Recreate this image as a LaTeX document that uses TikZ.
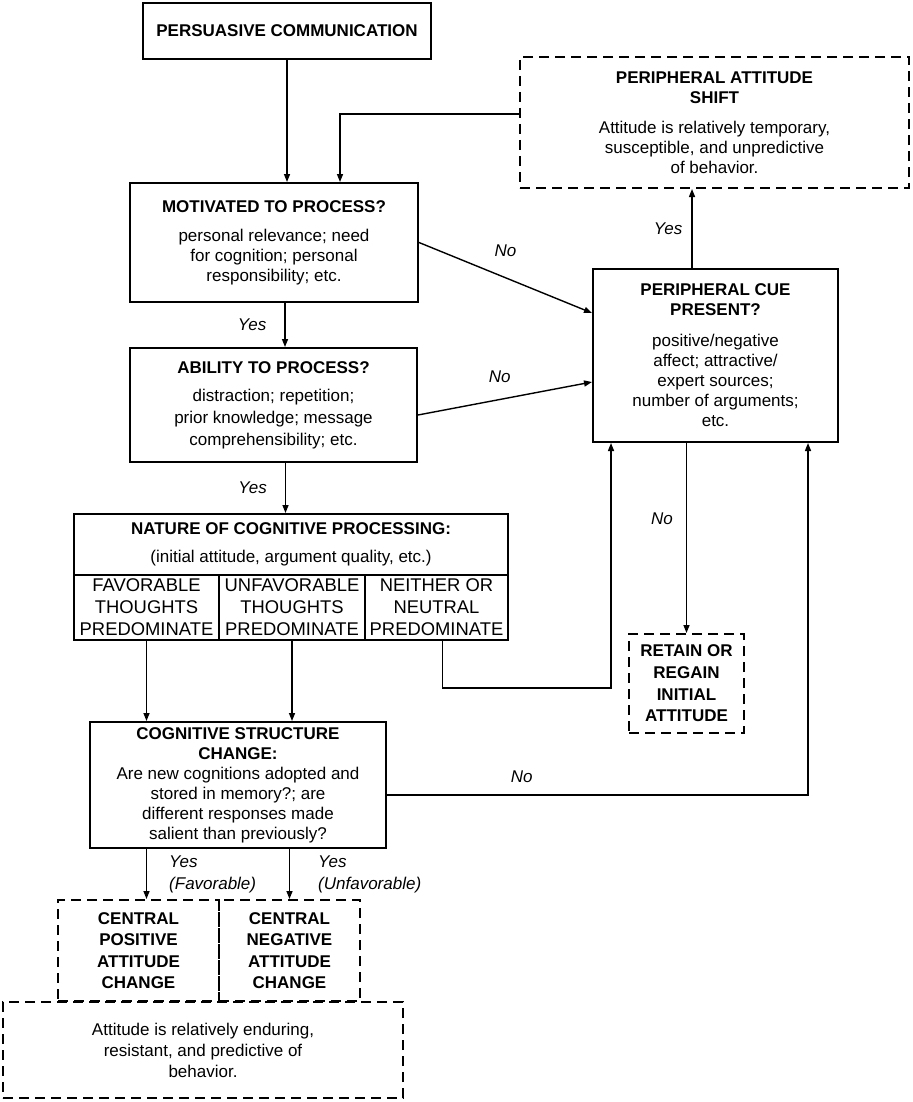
\documentclass[tikz,border=0pt]{standalone}
\usepackage{fontspec}
\setmainfont{Liberation Sans}
\usetikzlibrary{arrows.meta}

\begin{document}
\begin{tikzpicture}[x=0.5pt,y=-0.5pt]
	\tikzset{
		mynode/.style={rectangle, draw=black, line width=1pt, align=center, inner sep=0pt, font=\fontsize{8.5}{10}\selectfont},
		dashnode/.style={mynode, dash pattern=on 5pt off 3pt},
		cellnode/.style={mynode, font=\fontsize{9.2}{11}\selectfont},
		lbl/.style={font=\fontsize{8.5}{11}\selectfont\itshape, align=left, inner sep=1pt},
		arr/.style={-{Triangle[length=4pt,width=3pt]}, line width=0.7pt},
	}
	\useasboundingbox (0,0) rectangle (912,1102);

	\node[mynode, minimum width=144pt, minimum height=28pt] (pc) at (287,31) {\textbf{PERSUASIVE COMMUNICATION}};

	\node[dashnode, minimum width=194.5pt, minimum height=65.5pt] (shift) at (714.5,122.5) {\textbf{PERIPHERAL ATTITUDE}\\\textbf{SHIFT}\\[5pt]Attitude is relatively temporary,\\susceptible, and unpredictive\\of behavior.};

	\node[mynode, minimum width=144pt, minimum height=59.5pt] (mot) at (274,242.5) {\textbf{MOTIVATED TO PROCESS?}\\[4.5pt]personal relevance; need\\for cognition; personal\\responsibility; etc.};
	\node[mynode, minimum width=143.5pt, minimum height=57pt] (abil) at (273.5,405) {\textbf{ABILITY TO PROCESS?}\\[4pt]distraction; repetition;\\[1pt]prior knowledge; message\\[1pt]comprehensibility; etc.};

	\node[mynode, minimum width=122.5pt, minimum height=86.5pt] (cue) at (715.5,355.5) {\textbf{PERIPHERAL CUE}\\\textbf{PRESENT?}\\[5.5pt]positive/negative\\affect; attractive/\\expert sources;\\number of arguments;\\etc.};

	\node[mynode, minimum width=217pt, minimum height=30.5pt] (nat) at (291,544.5) {\textbf{NATURE OF COGNITIVE PROCESSING:}\\[4pt](initial attitude, argument quality, etc.)};
	\node[cellnode, minimum width=72.5pt, minimum height=32.5pt] (fav) at (146.5,607.5) {FAVORABLE\\THOUGHTS\\PREDOMINATE};
	\node[cellnode, minimum width=73pt, minimum height=32.5pt] (unfav) at (292,607.5) {UNFAVORABLE\\THOUGHTS\\PREDOMINATE};
	\node[cellnode, minimum width=71.5pt, minimum height=32.5pt] (neit) at (436.5,607.5) {NEITHER OR\\NEUTRAL\\PREDOMINATE};

	\node[dashnode, minimum width=57.5pt, minimum height=49.5pt, font=\fontsize{8.5}{10.8}\selectfont] (retain) at (686.5,683.5) {\textbf{RETAIN OR}\\\textbf{REGAIN}\\\textbf{INITIAL}\\\textbf{ATTITUDE}};

	\node[mynode, minimum width=148pt, minimum height=63pt] (cog) at (238,785) {\textbf{COGNITIVE STRUCTURE}\\\textbf{CHANGE:}\\Are new cognitions adopted and\\stored in memory?; are\\different responses made\\salient than previously?};

	\node[dashnode, minimum width=80.5pt, minimum height=50.5pt, font=\fontsize{8.5}{10.7}\selectfont] (cpos) at (138.5,950.5) {\textbf{CENTRAL}\\\textbf{POSITIVE}\\\textbf{ATTITUDE}\\\textbf{CHANGE}};
	\node[dashnode, minimum width=70.5pt, minimum height=50.5pt, font=\fontsize{8.5}{10.7}\selectfont] (cneg) at (289.5,950.5) {\textbf{CENTRAL}\\\textbf{NEGATIVE}\\\textbf{ATTITUDE}\\\textbf{CHANGE}};
	\node[dashnode, minimum width=200pt, minimum height=48pt, font=\fontsize{8.5}{10.5}\selectfont] (endure) at (203,1050) {Attitude is relatively enduring,\\resistant, and predictive of\\behavior.};

	% top part
	\draw[arr] (pc) -- (pc |- mot.north);
	\coordinate (m0) at ([xshift=33pt]mot.north);
	\draw[arr] ([yshift=4.25pt]shift.west) -| (m0);
	\coordinate (m1) at ([xshift=5.5pt]mot.south);
	\draw[arr] (m1) -- (m1 |- abil.north) node[lbl, midway, left=8pt] {Yes};
	\coordinate (a1) at ([xshift=6pt]abil.south);
	\draw[arr] (a1) -- (a1 |- nat.north) node[lbl, midway, left=8pt] {Yes};
	\draw[arr] (mot.east) -- ([yshift=21.25pt]cue.west) node[lbl, pos=0.5, above=9pt] {No};
	\draw[arr] ([yshift=-5pt]abil.east) -- ([yshift=-13.25pt]cue.west) node[lbl, pos=0.47, above=7pt] {No};

	% peripheral route
	\coordinate (c1) at ([xshift=-11.75pt]cue.north);
	\draw[arr] (c1) -- (c1 |- shift.south) node[lbl, midway, left=3.5pt] {Yes};
	\draw[arr] (retain.north |- cue.south) -- (retain.north) node[lbl, pos=0.4, left=5.5pt] {No};

	% cognitive processing
	\draw[arr] (fav) -- (fav |- cog.north);
	\draw[arr] (unfav) -- (unfav |- cog.north);
	\coordinate (c2) at ([xshift=-52.25pt]cue.south);
	\draw[arr] ([xshift=3pt]neit.south) -- ++(0,47) -| (c2);
	\coordinate (c3) at ([xshift=46.25pt]cue.south);
	\draw[arr] ([yshift=-5pt]cog.east) -| (c3) node[lbl, pos=0.16, above=5pt] {No};

	% central route
	\coordinate (g1) at (fav.south |- cog.south);
	\draw[arr] (g1) -- (g1 |- cpos.north) node[lbl, midway, right=10pt] {Yes\\(Favorable)};
	\draw[arr] (cneg.north |- cog.south) -- (cneg.north) node[lbl, midway, right=13pt] {Yes\\(Unfavorable)};
\end{tikzpicture}
\end{document}
